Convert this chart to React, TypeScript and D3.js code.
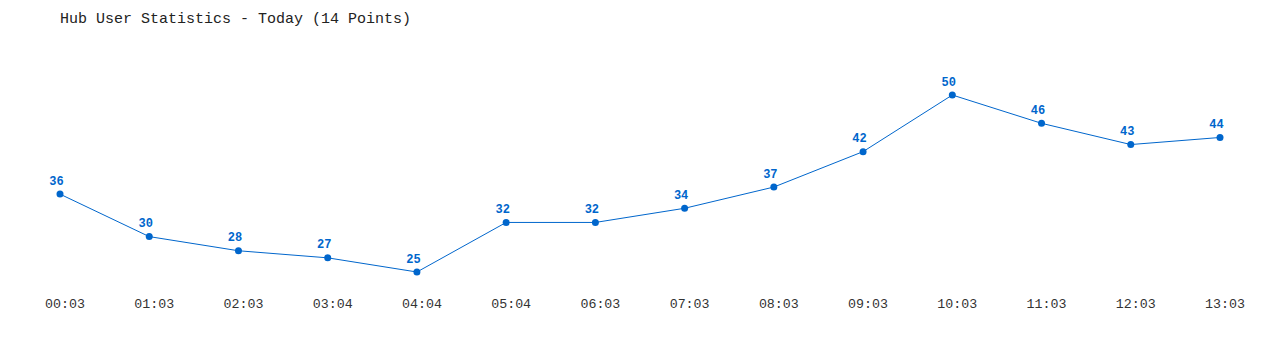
import React from "react";
import * as d3 from "d3";

const TITLE = "Hub User Statistics - Today (14 Points)";
const times = ["00:03","01:03","02:03","03:04","04:04","05:04","06:03","07:03","08:03","09:03","10:03","11:03","12:03","13:03"];
const users = [36,30,28,27,25,32,32,34,37,42,50,46,43,44];

const W = 1280, H = 350;
const FONT = "'Liberation Mono', 'DejaVu Sans Mono', monospace";
const BLUE = "#0066cc";

export default function App() {
  const x = d3.scalePoint<string>().domain(times).range([60, 1220]);
  const y = d3.scaleLinear().domain([25, 50]).range([272, 95]);
  const line = d3.line<number>().x((_, i) => x(times[i])!).y(d => y(d));
  return (
    <svg width={W} height={H} style={{ position: "absolute", left: 0, top: 0, background: "#fff" }}>
      <text x={60} y={23} fontFamily={FONT} fontSize={15} fill="#222">{TITLE}</text>
      <path d={line(users) || ""} fill="none" stroke={BLUE} strokeWidth={1} />
      {users.map((v, i) => (
        <g key={i}>
          <circle cx={x(times[i])} cy={y(v)} r={3.5} fill={BLUE} />
          <text x={x(times[i])! - 3.5} y={y(v) - 9.5} textAnchor="middle" fontFamily={FONT} fontSize={12} fontWeight="bold" fill={BLUE}>{v}</text>
        </g>
      ))}
      {times.map((t, i) => (
        <text key={t} x={x(t)! + 5} y={308} textAnchor="middle" fontFamily={FONT} fontSize={13.3} fill="#333">{t}</text>
      ))}
    </svg>
  );
}
